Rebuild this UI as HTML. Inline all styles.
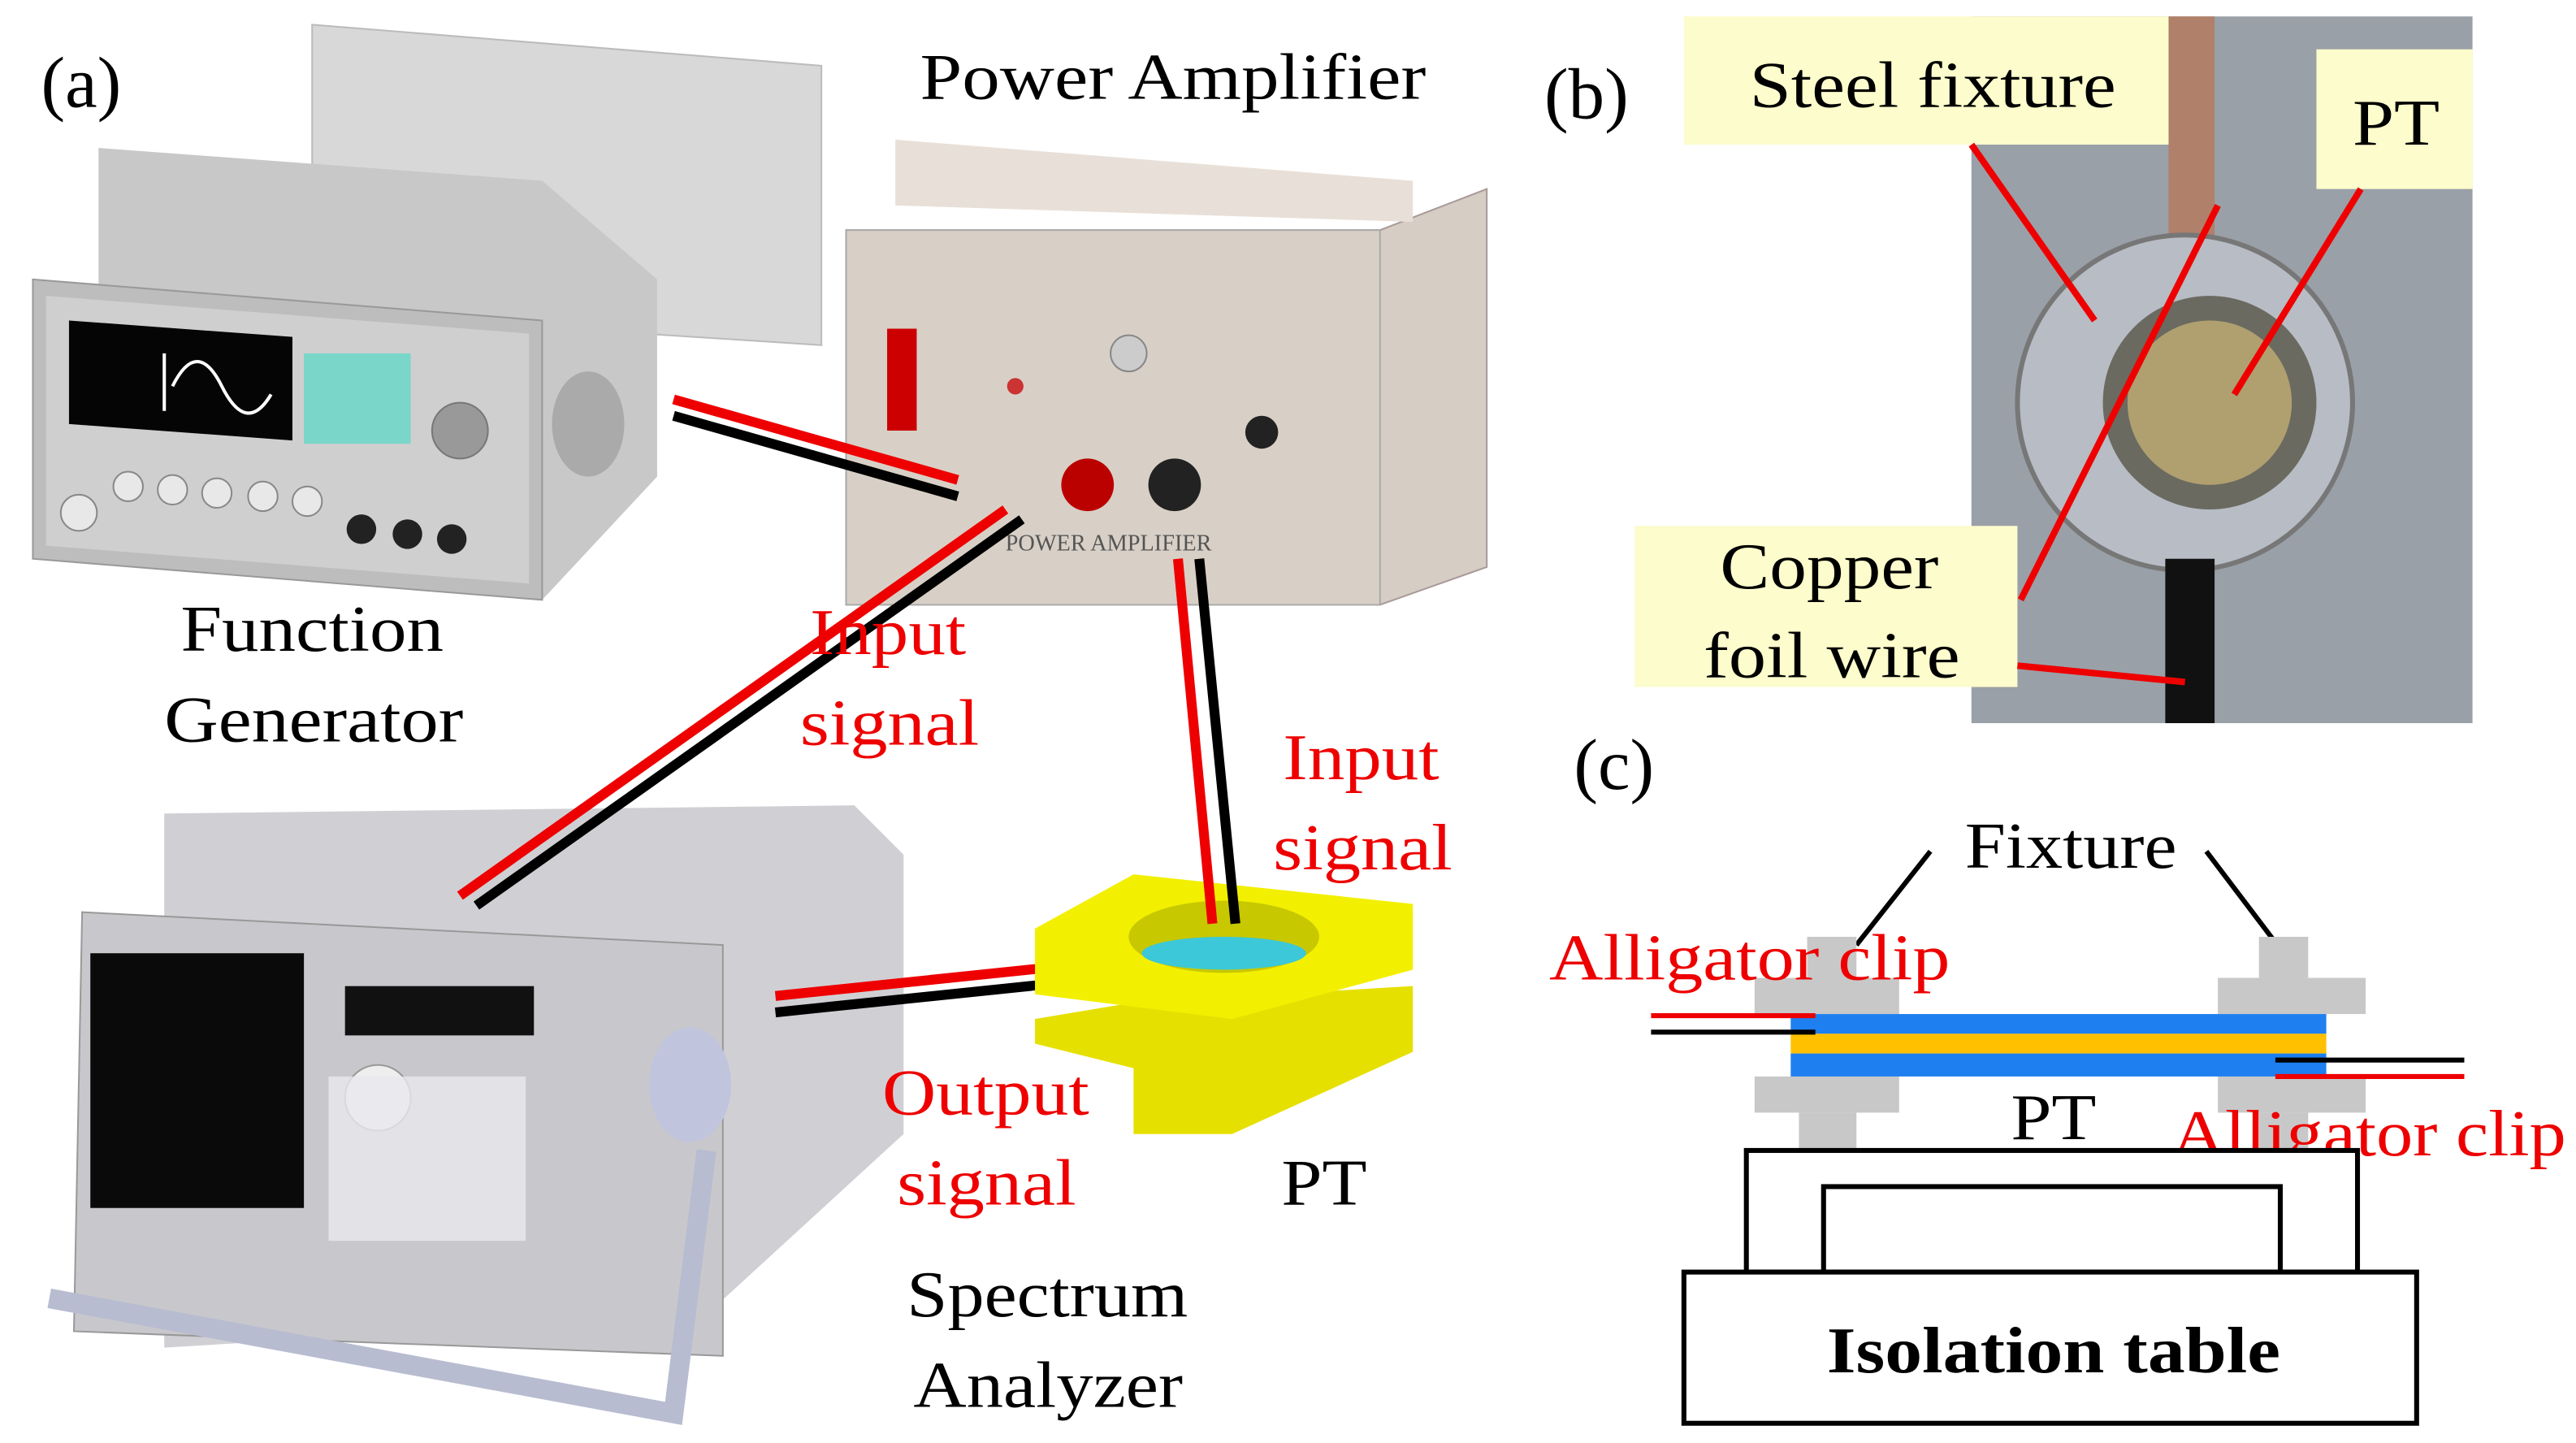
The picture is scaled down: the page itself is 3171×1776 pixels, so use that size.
<!DOCTYPE html>
<html><head><meta charset="utf-8"><style>
html,body{margin:0;padding:0;background:#fff;}
svg{display:block;}
text{font-family:"Liberation Serif",serif;}
</style></head><body>
<svg width="3171" height="1776" viewBox="0 0 1568 878" preserveAspectRatio="none" xmlns="http://www.w3.org/2000/svg">
<rect width="1568" height="878" fill="#fff"/>
<!-- Function generator -->
<polygon points="190,15 500,40 500,210 190,190" fill="#d8d8d8" stroke="#bbb"/>
<polygon points="60,90 330,110 400,170 400,290 330,365 60,330" fill="#c8c8c8"/>
<polygon points="20,170 330,195 330,365 20,340" fill="#bdbdbd" stroke="#999"/>
<polygon points="28,180 322,203 322,355 28,332" fill="#cfcfcf"/>
<polygon points="42,195 178,205 178,268 42,258" fill="#050505"/>
<path d="M105,235 Q120,205 135,235 T165,240" stroke="#fff" fill="none" stroke-width="2"/>
<line x1="100" y1="215" x2="100" y2="250" stroke="#fff" stroke-width="2"/>
<rect x="185" y="215" width="65" height="55" fill="#7ad6c8"/>
<circle cx="280" cy="262" r="17" fill="#999" stroke="#777"/>
<g fill="#e8e8e8" stroke="#888"><circle cx="48" cy="312" r="11"/><circle cx="78" cy="296" r="9"/><circle cx="105" cy="298" r="9"/><circle cx="132" cy="300" r="9"/><circle cx="160" cy="302" r="9"/><circle cx="187" cy="305" r="9"/></g>
<g fill="#222"><circle cx="220" cy="322" r="9"/><circle cx="248" cy="325" r="9"/><circle cx="275" cy="328" r="9"/></g>
<ellipse cx="358" cy="258" rx="22" ry="32" fill="#aaa"/>
<!-- Power amplifier -->
<polygon points="515,140 840,140 905,115 905,345 840,368 515,345" fill="#d6cdc4" stroke="#a99"/>
<polygon points="545,85 860,110 860,135 545,125" fill="#e8e0d8"/>
<rect x="515" y="140" width="325" height="228" fill="#d8d0c6" stroke="#aaa"/>
<rect x="540" y="200" width="18" height="62" fill="#c00"/>
<circle cx="687" cy="215" r="11" fill="#ccc" stroke="#888"/>
<circle cx="618" cy="235" r="5" fill="#c33"/>
<circle cx="768" cy="263" r="10" fill="#222"/>
<circle cx="662" cy="295" r="16" fill="#b00"/>
<circle cx="715" cy="295" r="16" fill="#222"/>
<text x="612" y="335" font-size="14" fill="#555">POWER AMPLIFIER</text>
<line x1="410" y1="243" x2="583" y2="292" stroke="#e00" stroke-width="6"/>
<line x1="410" y1="253" x2="583" y2="302" stroke="#000" stroke-width="6"/>
<!-- Spectrum analyzer -->
<polygon points="100,495 520,490 550,520 550,690 430,800 100,820" fill="#d0d0d4"/>
<polygon points="50,555 440,575 440,825 45,810" fill="#c8c8cc" stroke="#999"/>
<rect x="55" y="580" width="130" height="155" fill="#0a0a0a"/>
<rect x="210" y="600" width="115" height="30" fill="#111"/>
<circle cx="230" cy="668" r="20" fill="#eee" stroke="#999"/>
<rect x="200" y="655" width="120" height="100" fill="#e8e8ee" opacity="0.8"/>
<path d="M30,790 L410,860 L430,700" stroke="#b8bcd0" stroke-width="12" fill="none"/>
<ellipse cx="420" cy="660" rx="25" ry="35" fill="#c0c4dc"/>
<line x1="612" y1="310" x2="280" y2="545" stroke="#e00" stroke-width="6"/>
<line x1="622" y1="316" x2="290" y2="551" stroke="#000" stroke-width="6"/>
<line x1="472" y1="606" x2="665" y2="586" stroke="#e00" stroke-width="6"/>
<line x1="472" y1="616" x2="665" y2="596" stroke="#000" stroke-width="6"/>
<!-- PT block -->
<polygon points="630,620 690,610 860,600 860,640 750,690 690,690 690,650 630,635" fill="#e6e000"/>
<polygon points="630,565 690,532 860,550 860,590 750,620 630,605" fill="#f2f000"/>
<ellipse cx="745" cy="570" rx="58" ry="22" fill="#c8c800"/>
<ellipse cx="745" cy="580" rx="50" ry="10" fill="#3cc8d8"/>
<line x1="717" y1="340" x2="738" y2="562" stroke="#e00" stroke-width="6"/>
<line x1="730" y1="340" x2="752" y2="562" stroke="#000" stroke-width="6"/>
<!-- (a) text -->
<text x="25" y="65" font-size="44">(a)</text>
<text x="560" y="60" font-size="40" textLength="308" lengthAdjust="spacingAndGlyphs">Power Amplifier</text>
<text x="110" y="396" font-size="40" textLength="160" lengthAdjust="spacingAndGlyphs">Function</text>
<text x="100" y="451" font-size="40" textLength="182" lengthAdjust="spacingAndGlyphs">Generator</text>
<text x="493" y="398" font-size="40" fill="#e00" textLength="95" lengthAdjust="spacingAndGlyphs">Input</text>
<text x="487" y="453" font-size="40" fill="#e00" textLength="109" lengthAdjust="spacingAndGlyphs">signal</text>
<text x="781" y="474" font-size="40" fill="#e00" textLength="95" lengthAdjust="spacingAndGlyphs">Input</text>
<text x="775" y="529" font-size="40" fill="#e00" textLength="109" lengthAdjust="spacingAndGlyphs">signal</text>
<text x="537" y="678" font-size="40" fill="#e00" textLength="126" lengthAdjust="spacingAndGlyphs">Output</text>
<text x="546" y="733" font-size="40" fill="#e00" textLength="109" lengthAdjust="spacingAndGlyphs">signal</text>
<text x="780" y="733" font-size="40" textLength="52" lengthAdjust="spacingAndGlyphs">PT</text>
<text x="552" y="801" font-size="40" textLength="171" lengthAdjust="spacingAndGlyphs">Spectrum</text>
<text x="556" y="856" font-size="40" textLength="164" lengthAdjust="spacingAndGlyphs">Analyzer</text>
<!-- (b) -->
<text x="940" y="72" font-size="44">(b)</text>
<rect x="1200" y="10" width="305" height="430" fill="#9aa0a8"/>
<rect x="1320" y="10" width="28" height="175" fill="#b0806a"/>
<circle cx="1330" cy="245" r="102" fill="#b8bcc4" stroke="#777" stroke-width="3"/>
<circle cx="1345" cy="245" r="65" fill="#6a6a60"/>
<circle cx="1345" cy="245" r="50" fill="#b0a070"/>
<rect x="1318" y="340" width="30" height="100" fill="#111"/>
<rect x="1025" y="10" width="295" height="78" fill="#fcfccc"/>
<text x="1065" y="65" font-size="40" textLength="223" lengthAdjust="spacingAndGlyphs">Steel fixture</text>
<rect x="1410" y="30" width="95" height="85" fill="#fcfccc"/>
<text x="1432" y="88" font-size="40" textLength="53" lengthAdjust="spacingAndGlyphs">PT</text>
<rect x="995" y="320" width="233" height="98" fill="#fcfccc"/>
<text x="1047" y="358" font-size="40" textLength="133" lengthAdjust="spacingAndGlyphs">Copper</text>
<text x="1037" y="412" font-size="40" textLength="156" lengthAdjust="spacingAndGlyphs">foil wire</text>
<g stroke="#e00" stroke-width="4">
<line x1="1200" y1="88" x2="1275" y2="195"/>
<line x1="1437" y1="115" x2="1360" y2="240"/>
<line x1="1350" y1="125" x2="1230" y2="365"/>
<line x1="1228" y1="405" x2="1330" y2="415"/>
</g>
<!-- (c) -->
<text x="958" y="480" font-size="44">(c)</text>
<text x="1196" y="528" font-size="40" textLength="129" lengthAdjust="spacingAndGlyphs">Fixture</text>
<line x1="1175" y1="518" x2="1130" y2="575" stroke="#000" stroke-width="3"/>
<line x1="1343" y1="518" x2="1390" y2="580" stroke="#000" stroke-width="3"/>
<g fill="#c8c8c8">
<rect x="1100" y="570" width="30" height="25"/><rect x="1068" y="595" width="88" height="22"/>
<rect x="1068" y="655" width="88" height="22"/><rect x="1095" y="677" width="35" height="23"/>
<rect x="1375" y="570" width="30" height="25"/><rect x="1350" y="595" width="90" height="22"/>
<rect x="1350" y="655" width="90" height="22"/><rect x="1375" y="677" width="30" height="23"/>
</g>
<rect x="1090" y="617" width="326" height="12" fill="#1e7ff0"/>
<rect x="1090" y="629" width="326" height="12" fill="#ffc000"/>
<rect x="1090" y="641" width="326" height="14" fill="#1e7ff0"/>
<line x1="1005" y1="618" x2="1105" y2="618" stroke="#e00" stroke-width="3"/>
<line x1="1005" y1="628" x2="1105" y2="628" stroke="#000" stroke-width="3"/>
<line x1="1385" y1="645" x2="1500" y2="645" stroke="#000" stroke-width="3"/>
<line x1="1385" y1="655" x2="1500" y2="655" stroke="#e00" stroke-width="3"/>
<text x="943" y="596" font-size="40" fill="#e00" textLength="244" lengthAdjust="spacingAndGlyphs">Alligator clip</text>
<text x="1322" y="703" font-size="40" fill="#e00" textLength="240" lengthAdjust="spacingAndGlyphs">Alligator clip</text>
<text x="1224" y="693" font-size="40" textLength="52" lengthAdjust="spacingAndGlyphs">PT</text>
<rect x="1063" y="700" width="372" height="74" fill="#fff" stroke="#000" stroke-width="3"/>
<rect x="1110" y="722" width="278" height="52" fill="#fff" stroke="#000" stroke-width="3"/>
<rect x="1025" y="774" width="446" height="92" fill="#fff" stroke="#000" stroke-width="3"/>
<text x="1112" y="835" font-size="40" font-weight="bold" textLength="276" lengthAdjust="spacingAndGlyphs">Isolation table</text>
</svg>
</body></html>
